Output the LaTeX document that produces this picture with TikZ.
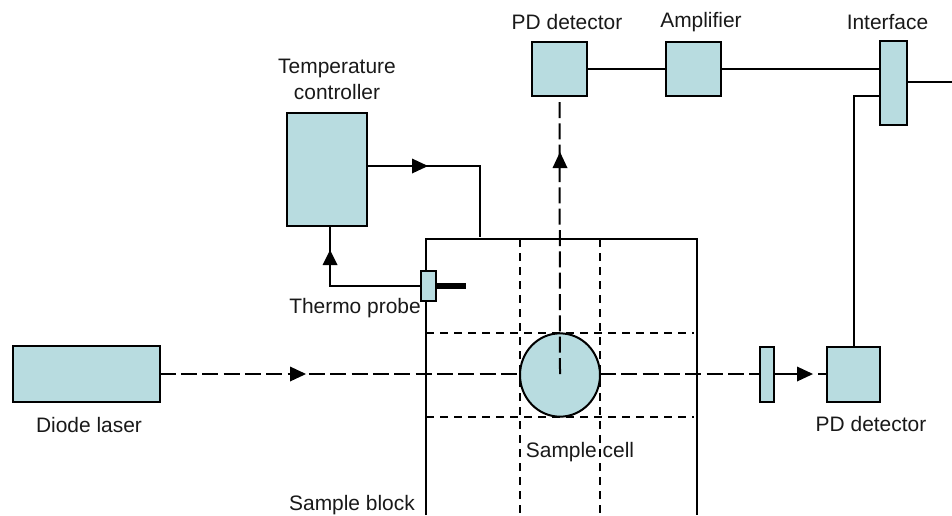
\documentclass[tikz,border=0pt]{standalone}
\usepackage{fontspec}
\setmainfont{Liberation Sans}
\usetikzlibrary{shapes.geometric}
\definecolor{boxfill}{HTML}{B8DCE0}
\tikzset{
  x=0.75pt,y=-0.75pt,
  box/.style={draw=black,line width=1.5pt,fill=boxfill,inner sep=0pt,outer sep=0pt,anchor=north west},
  wire/.style={draw=black,line width=1.5pt},
  grid line/.style={draw=black,line width=1.4pt,dash pattern=on 6pt off 4.5pt},
  beam/.style={draw=black,line width=1.5pt,dash pattern=on 12pt off 4pt},
  lbl/.style={font=\fontsize{15.7pt}{18pt}\selectfont,inner sep=0pt,align=center,text=black!90},
  tip/.style={fill=black,draw=none},
}
\begin{document}
\begin{tikzpicture}
\useasboundingbox (0,0) rectangle (952,515);
\fill[white] (0,0) rectangle (952,515);
% sample block
\coordinate (blockBL) at (425.5,515);
\coordinate (blockTL) at (425.5,239);
\coordinate (blockTR) at (696.5,239);
\coordinate (blockBR) at (696.5,515);
\draw[wire] (blockBL) -- (blockTL) -- (blockTR) -- (blockBR);
% grid
\coordinate (g1t) at (520,239); \coordinate (g1b) at (520,515);
\coordinate (g2t) at (600,239); \coordinate (g2b) at (600,515);
\coordinate (h1l) at (426,333); \coordinate (h1r) at (694,333);
\coordinate (h2l) at (426,417); \coordinate (h2r) at (694,417);
\draw[grid line] (g1t) -- (g1b);
\draw[grid line] (g2t) -- (g2b);
\draw[grid line] (h1l) -- (h1r);
\draw[grid line] (h2l) -- (h2r);
% nodes
\node[box,minimum width=110.25pt,minimum height=42pt] (laser) at (12.5,346) {};
\node[box,minimum width=60pt,minimum height=84.75pt] (temp) at (287,113) {};
\node[box,minimum width=41.25pt,minimum height=40.5pt] (pdtop) at (532,42) {};
\node[box,minimum width=41.25pt,minimum height=40.5pt] (amp) at (666,42) {};
\node[box,minimum width=20.25pt,minimum height=63pt] (iface) at (880,40.5) {};
\node[box,minimum width=39.75pt,minimum height=41.25pt] (pdright) at (827,346.5) {};
\node[box,minimum width=10.5pt,minimum height=41.25pt] (filter) at (760,346.5) {};
\node[box,minimum width=11.25pt,minimum height=22.5pt] (probe) at (421,271) {};
% beams
\coordinate (beamA) at (520,374);
\coordinate (beamB) at (600,374);
\coordinate (beamC) at (560,374);
\draw[beam] (laser.east |- beamA) -- (beamA);
\draw[beam] (beamB) -- (filter.west |- beamB);
\node[draw=black,line width=1.5pt,fill=boxfill,ellipse,inner sep=0pt,minimum width=60pt,minimum height=62.5pt] (cell) at (560,375) {};
\draw[beam] (beamC) -- (pdtop.south);
\draw[wire] (filter.east |- beamB) -- (800,374);
\coordinate (fromFilter) at (818,374);
\draw[beam] (fromFilter) -- (pdright.west |- fromFilter);
\path[tip] (306,374) -- ++(-16,-7.5) -- ++(0,15) -- cycle;
\path[tip] (813,374) -- ++(-16,-7.5) -- ++(0,15) -- cycle;
\path[tip] (560,152) -- ++(-7.5,16) -- ++(15,0) -- cycle;
% wires
\draw[wire] (pdtop.east |- 0,68.5) -- (amp.west |- 0,68.5);
\draw[wire] (amp.east |- 0,68.5) -- (iface.west |- 0,68.5);
\coordinate (out) at (952,82);
\draw[wire] (iface.east |- out) -- (out);
\draw[wire] (853.7,0 |- pdright.north) -- (853.7,96) -- (iface.west |- 0,96);
\coordinate (tempIn) at (480,237);
\draw[wire] (temp.east |- 0,166) -- (480,166) -- (tempIn);
\path[tip] (428,166) -- ++(-16,-7.5) -- ++(0,15) -- cycle;
\draw[wire] (probe.west |- 0,286) -- (330,286) -- (330,226);
\path[tip] (330,250) -- ++(-7.5,15) -- ++(15,0) -- cycle;
\coordinate (probeEnd) at (466,286);
\draw[draw=black,line width=4.5pt] (probe.east |- probeEnd) -- (probeEnd);
% labels
\node[lbl,align=center] at (337,79.5) (ltemp) {Temperature\\[1.5pt]controller};
\node[lbl] at (567,22) (lpd1) {PD detector};
\node[lbl] at (701,22) (lamp) {Amplifier};
\node[lbl] at (887.5,22) (lif) {Interface};
\node[lbl] at (355,308) (lprobe) {Thermo probe};
\node[lbl] at (89,425) (llaser) {Diode laser};
\node[lbl] at (871,424) (lpd2) {PD detector};
\node[lbl] at (580,452) (lcell) {Sample cell};
\node[lbl] at (352,505) (lblock) {Sample block};
\end{tikzpicture}
\end{document}
